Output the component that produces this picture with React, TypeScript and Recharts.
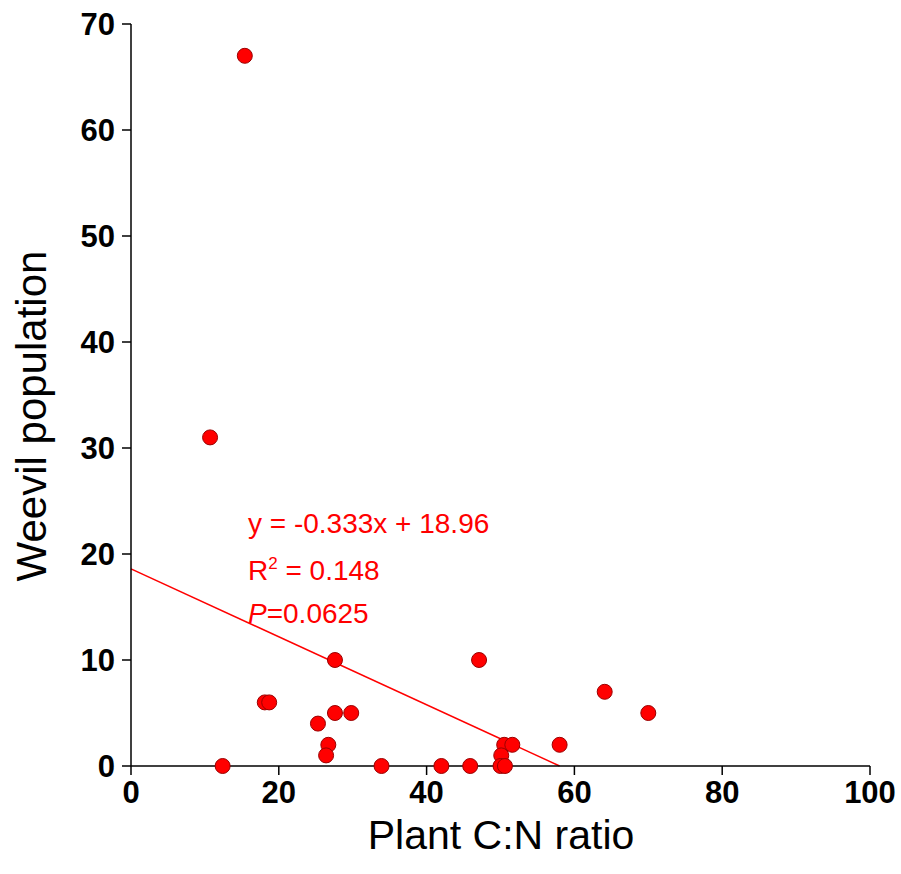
import { ScatterChart, Scatter, XAxis, YAxis, ReferenceLine, Customized } from "recharts";

const cnRatio = [15.4, 10.7, 12.4, 18.1, 18.7, 27.6, 25.3, 27.6, 29.8, 26.7, 26.4, 33.9, 42.0, 45.9, 47.1, 50.5, 51.6, 50.1, 50.0, 50.6, 58.0, 64.1, 70.0];
const weevils = [67, 31, 0, 6, 6, 10, 4, 5, 5, 2, 1, 0, 0, 0, 10, 2, 2, 1, 0, 0, 2, 7, 5];

const xTicks = [0, 20, 40, 60, 80, 100];
const yTicks = [0, 10, 20, 30, 40, 50, 60, 70];

// fitted line as drawn in the figure (y = -0.333x + 18.96)
const fitStartY = 18.6;
const fitEndX = 58;

const points = cnRatio.map((x, i) => ({ x, y: weevils[i] }));
const fitLine = [
  { x: 0, y: fitStartY },
  { x: fitEndX, y: 0 },
];

const font = "'Liberation Sans', Arial, sans-serif";

const Dot = (props: any) => {
  const { cx, cy } = props;
  return <circle cx={cx} cy={cy} r={7.5} fill="#ff0000" stroke="#9a0000" strokeWidth={1} />;
};

const Labels = () => (
  <g fontFamily={font}>
    <text x={31} y={416} transform="rotate(-90 31 416)" textAnchor="middle" dominantBaseline="central" fontSize={42} fill="#000">
      Weevil population
    </text>
    <text x={501} y={849} textAnchor="middle" fontSize={41} fill="#000">
      Plant C:N ratio
    </text>
    <g fill="#ff0000" fontSize={28}>
      <text x={248} y={533}>y = -0.333x + 18.96</text>
      <text x={248} y={580}>
        R<tspan fontSize={17} dy={-11}>2</tspan>
        <tspan dy={11}> = 0.148</tspan>
      </text>
      <text x={248} y={623}>
        <tspan fontStyle="italic">P</tspan>=0.0625
      </text>
    </g>
  </g>
);

export default function App() {
  return (
    <div style={{ position: "absolute", left: 0, top: 0, background: "#fff" }}>
      <ScatterChart width={901} height={874} margin={{ top: 24, right: 31, left: 0, bottom: 0 }}>
        <XAxis
          type="number"
          dataKey="x"
          domain={[0, 100]}
          ticks={xTicks}
          height={108}
          axisLine={{ stroke: "#000", strokeWidth: 1.5 }}
          tickLine={{ stroke: "#000", strokeWidth: 1.5 }}
          tickSize={9}
          tickMargin={6}
          tick={{ fill: "#000", fontSize: 31, fontWeight: "bold", fontFamily: font }}
          interval={0}
        />
        <YAxis
          type="number"
          dataKey="y"
          domain={[0, 70]}
          ticks={yTicks}
          width={131}
          axisLine={{ stroke: "#000", strokeWidth: 1.5 }}
          tickLine={{ stroke: "#000", strokeWidth: 1.5 }}
          tickSize={9}
          tickMargin={7}
          tick={{ fill: "#000", fontSize: 31, fontWeight: "bold", fontFamily: font }}
          interval={0}
        />
        <ReferenceLine segment={fitLine} stroke="#ff0000" strokeWidth={1.5} ifOverflow="visible" />
        <Scatter data={points} shape={<Dot />} isAnimationActive={false} />
        <Customized component={Labels} />
      </ScatterChart>
    </div>
  );
}
